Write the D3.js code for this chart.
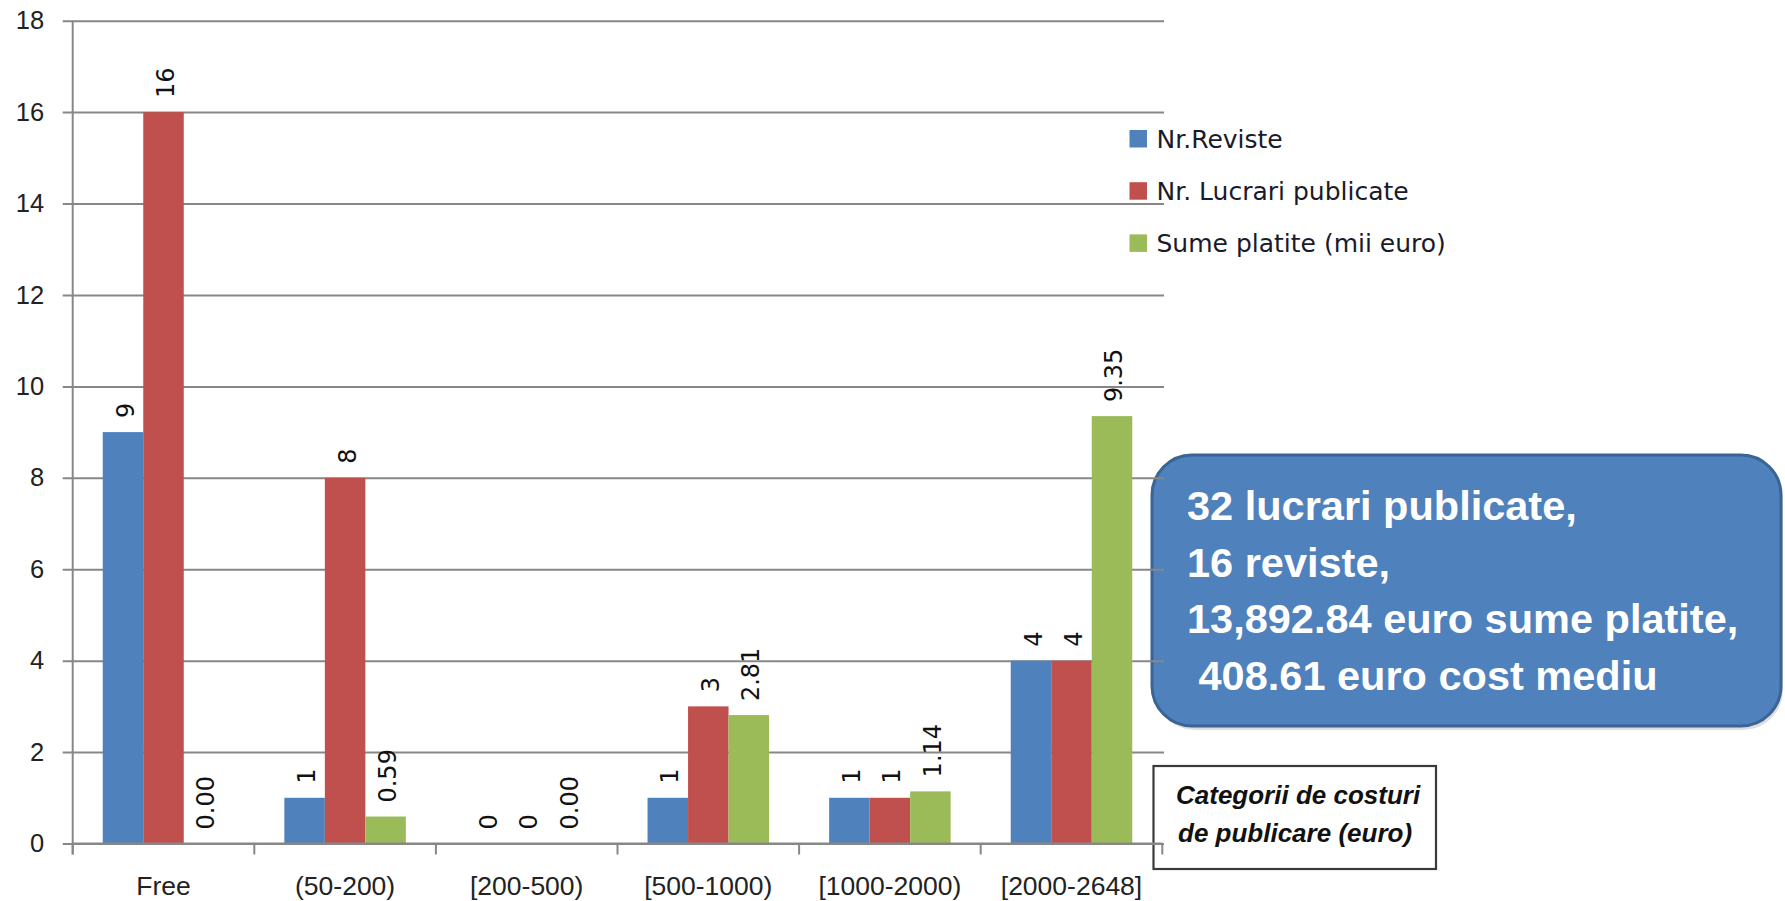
<!DOCTYPE html>
<html>
<head>
<meta charset="utf-8">
<script src="https://cdn.jsdelivr.net/npm/d3@7/dist/d3.min.js"></script>
<style>
  html, body { margin: 0; padding: 0; background: #ffffff; }
  svg { display: block; }
</style>
</head>
<body>
<svg id="chart" width="1785" height="901"></svg>
<script>
// ---------------- DATA ----------------
const categories = ["Free", "(50-200)", "[200-500)", "[500-1000)", "[1000-2000)", "[2000-2648]"];
const seriesNames = ["Nr.Reviste", "Nr. Lucrari publicate", "Sume platite (mii euro)"];
const nrReviste = [9, 1, 0, 1, 1, 4];
const nrLucrari = [16, 8, 0, 3, 1, 4];
const sumePlatite = [0.00, 0.59, 0.00, 2.81, 1.14, 9.35];
const yTicks = [0, 2, 4, 6, 8, 10, 12, 14, 16, 18];
const calloutLines = ["32 lucrari publicate,", "16 reviste,", "13,892.84 euro sume platite,", " 408.61 euro cost mediu"];
const axisTitleLines = ["Categorii de costuri", "de publicare (euro)"];

// ---------------- SETUP ----------------
const seriesValues = [nrReviste, nrLucrari, sumePlatite];
const seriesColors = ["#4f81bd", "#c0504d", "#9bbb59"];
const labelFormats = [d3.format("d"), d3.format("d"), d3.format(".2f")];

const svg = d3.select("#chart");
svg.append("rect").attr("width", 1785).attr("height", 901).attr("fill", "#ffffff");

const plotLeft = 72.7, plotRight = 1162.3, plotTop = 20.7, plotBottom = 843.5;
const gridRight = 1164;
const axisColor = "#878787";

const x = d3.scaleBand().domain(categories).range([plotLeft, plotRight]).paddingInner(0).paddingOuter(0);
const xs = d3.scaleBand().domain(d3.range(seriesNames.length)).range([0, x.bandwidth()])
  .paddingInner(0).paddingOuter(0.742);
const y = d3.scaleLinear().domain([0, 18]).range([plotBottom, plotTop]);

// ---------------- CALLOUT BOX (under gridlines) ----------------
const callout = svg.append("g");
callout.append("rect")
  .attr("x", 1155).attr("y", 459).attr("width", 628).attr("height", 271)
  .attr("rx", 40).attr("ry", 40)
  .attr("fill", "#c8c8c8").attr("opacity", 0.6);
callout.append("rect")
  .attr("x", 1152).attr("y", 455).attr("width", 629).attr("height", 271)
  .attr("rx", 40).attr("ry", 40)
  .attr("fill", "#4f81bd").attr("stroke", "#3a6494").attr("stroke-width", 3);
callout.selectAll("text.cl").data(calloutLines).join("text")
  .attr("class", "cl")
  .attr("x", 1187)
  .attr("y", (d, i) => 520 + i * 56.7)
  .attr("fill", "#ffffff")
  .style("white-space", "pre")
  .attr("font-family", "'Liberation Sans', Arial, sans-serif")
  .attr("font-weight", "bold")
  .attr("font-size", 41.5)
  .text(d => d);

// ---------------- AXIS TITLE BOX ----------------
const at = svg.append("g");
at.append("rect")
  .attr("x", 1153.5).attr("y", 766).attr("width", 282.5).attr("height", 103)
  .attr("fill", "#ffffff").attr("stroke", "#3a3a3a").attr("stroke-width", 2.2);
at.selectAll("text").data(axisTitleLines).join("text")
  .attr("x", (d, i) => i === 0 ? 1176 : 1178)
  .attr("y", (d, i) => 804 + i * 38)
  .attr("fill", "#111111")
  .attr("font-family", "'Liberation Sans', Arial, sans-serif")
  .attr("font-weight", "bold")
  .attr("font-style", "italic")
  .attr("font-size", 26)
  .text(d => d);

// ---------------- Y AXIS + GRID ----------------
const yAxis = svg.append("g")
  .attr("transform", `translate(${plotLeft},0)`)
  .call(d3.axisLeft(y).tickValues(yTicks).tickSize(10).tickPadding(18.5).tickFormat(d3.format("d")));
yAxis.select(".domain").remove();
yAxis.selectAll(".tick line")
  .attr("x1", gridRight - plotLeft)
  .attr("stroke", axisColor).attr("stroke-width", 2);
yAxis.selectAll(".tick text")
  .attr("fill", "#222222")
  .attr("font-family", "'Liberation Sans', Arial, sans-serif")
  .attr("font-size", 25.5);
svg.append("line")
  .attr("x1", plotLeft).attr("x2", plotLeft).attr("y1", plotTop).attr("y2", plotBottom + 11)
  .attr("stroke", axisColor).attr("stroke-width", 2);

// ---------------- BARS ----------------
const groups = svg.append("g").selectAll("g")
  .data(seriesNames.map((name, si) => ({ name, si })))
  .join("g")
  .attr("fill", d => seriesColors[d.si]);

groups.selectAll("rect")
  .data(d => categories.map((c, ci) => ({ c, si: d.si, v: seriesValues[d.si][ci] })))
  .join("rect")
  .attr("x", d => x(d.c) + xs(d.si))
  .attr("width", xs.bandwidth())
  .attr("y", d => y(d.v))
  .attr("height", d => Math.max(0, y(0) - y(d.v)));

// ---------------- X AXIS ----------------
const xAxis = svg.append("g")
  .attr("transform", `translate(0,${plotBottom})`)
  .call(d3.axisBottom(x).tickSize(0).tickPadding(32.5));
xAxis.select(".domain").remove();
xAxis.selectAll(".tick text")
  .attr("fill", "#222222")
  .attr("font-family", "'Liberation Sans', Arial, sans-serif")
  .attr("font-size", 26.5);
svg.append("line")
  .attr("x1", plotLeft).attr("x2", plotRight).attr("y1", plotBottom).attr("y2", plotBottom)
  .attr("stroke", axisColor).attr("stroke-width", 2);
const boundaries = categories.map(c => x(c)).concat([x.range()[1]]);
svg.append("g").selectAll("line").data(boundaries).join("line")
  .attr("x1", d => d).attr("x2", d => d)
  .attr("y1", plotBottom).attr("y2", plotBottom + 11)
  .attr("stroke", axisColor).attr("stroke-width", 2);

// ---------------- DATA LABELS ----------------
const fs = 24;
svg.append("g").selectAll("text")
  .data(seriesNames.flatMap((n, si) => categories.map((c, ci) => ({ c, si, v: seriesValues[si][ci] }))))
  .join("text")
  .attr("transform", d => {
    const cx = x(d.c) + xs(d.si) + xs.bandwidth() / 2 + 10.5;
    const cy = y(d.v) - 14;
    return `translate(${cx},${cy}) rotate(-90)`;
  })
  .attr("fill", "#111111")
  .attr("font-family", "'DejaVu Sans', Verdana, sans-serif")
  .attr("font-size", fs)
  .text(d => labelFormats[d.si](d.v));

// ---------------- LEGEND ----------------
const legend = svg.append("g").selectAll("g")
  .data(seriesNames)
  .join("g")
  .attr("transform", (d, i) => `translate(1129.5,${147.5 + i * 52.2})`);
legend.append("rect")
  .attr("x", 0).attr("y", -17.5).attr("width", 17.5).attr("height", 17.5)
  .attr("fill", (d, i) => seriesColors[i]);
legend.append("text")
  .attr("x", 27).attr("y", 0)
  .attr("fill", "#1a1a2a")
  .attr("font-family", "'DejaVu Sans', Verdana, sans-serif")
  .attr("font-size", 25)
  .text(d => d);
</script>
</body>
</html>
